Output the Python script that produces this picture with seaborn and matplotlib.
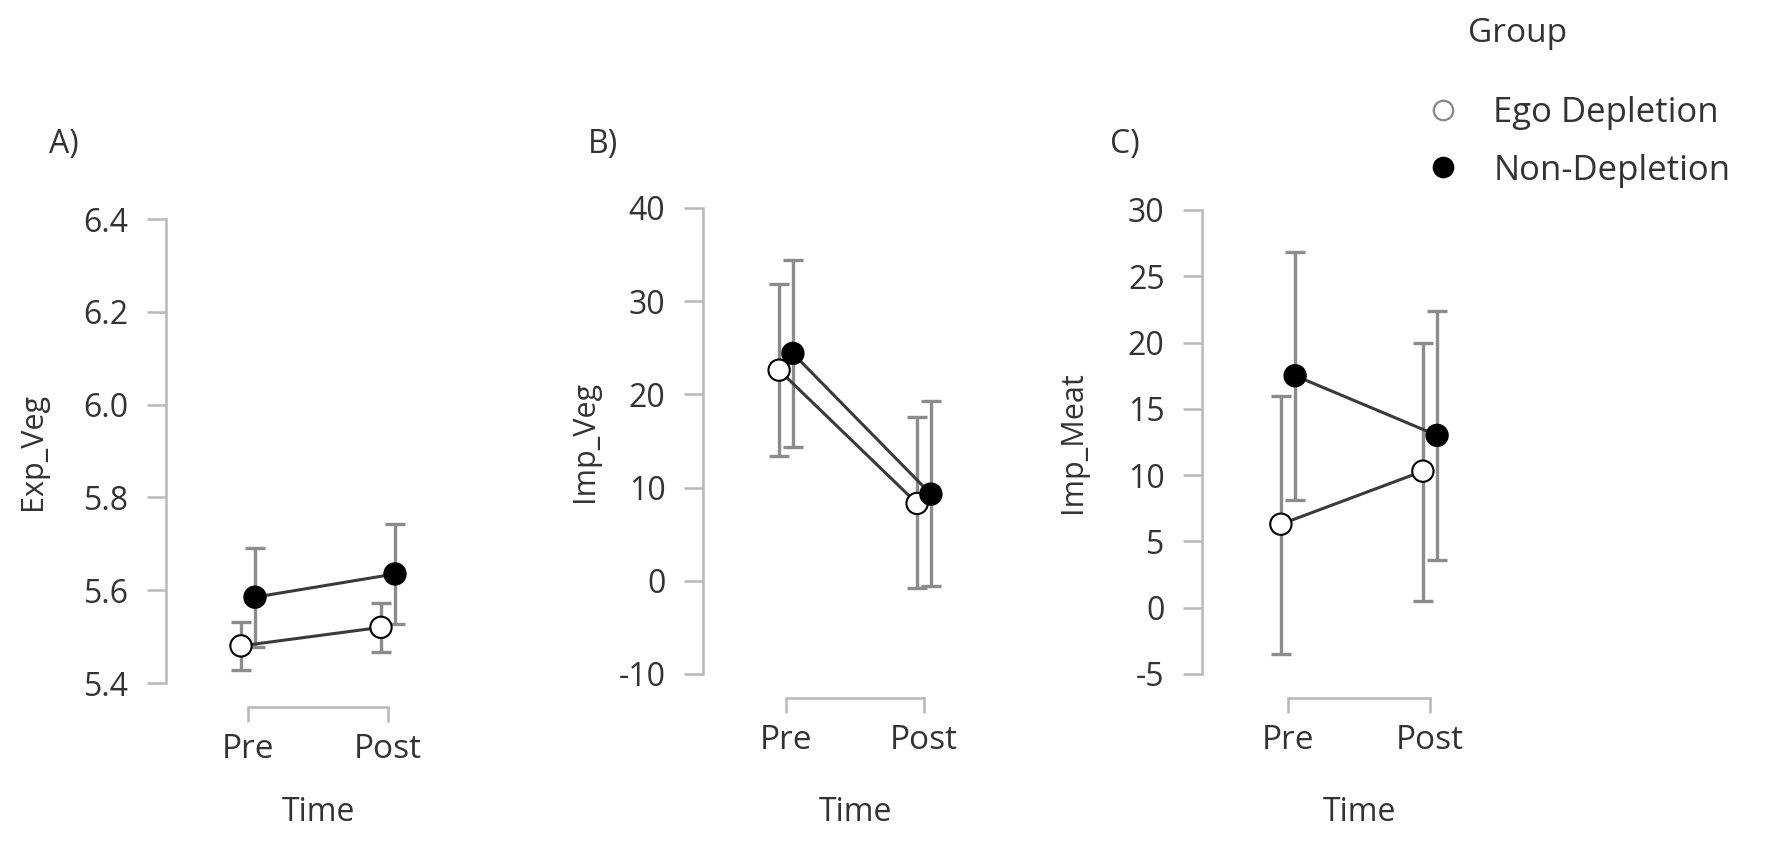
import numpy as np
import pandas as pd
import matplotlib
matplotlib.use("Agg")
import matplotlib.pyplot as plt
import matplotlib.transforms as mtransforms
from matplotlib.lines import Line2D
import seaborn as sns

# ---------------- data ----------------
time_labels = ["Pre", "Post"]
groups = ["Ego Depletion", "Non-Depletion"]

# Panel A: Exp_Veg
exp_veg_ego = [5.48, 5.52]
exp_veg_ego_lo = [5.428, 5.466]
exp_veg_ego_hi = [5.532, 5.572]
exp_veg_non = [5.585, 5.635]
exp_veg_non_lo = [5.478, 5.528]
exp_veg_non_hi = [5.692, 5.743]

# Panel B: Imp_Veg
imp_veg_ego = [22.6, 8.3]
imp_veg_ego_lo = [13.4, -0.8]
imp_veg_ego_hi = [31.8, 17.6]
imp_veg_non = [24.4, 9.3]
imp_veg_non_lo = [14.4, -0.6]
imp_veg_non_hi = [34.4, 19.3]

# Panel C: Imp_Meat
imp_meat_ego = [6.3, 10.3]
imp_meat_ego_lo = [-3.5, 0.5]
imp_meat_ego_hi = [16.0, 20.0]
imp_meat_non = [17.5, 13.0]
imp_meat_non_lo = [8.1, 3.6]
imp_meat_non_hi = [26.8, 22.4]

y_ticks_a = [5.4, 5.6, 5.8, 6.0, 6.2, 6.4]
y_ticks_b = [-10, 0, 10, 20, 30, 40]
y_ticks_c = [-5, 0, 5, 10, 15, 20, 25, 30]

panels = [
    dict(tag="A)", ylabel="Exp_Veg", ticks=y_ticks_a, fmt="{:.1f}",
         ego=(exp_veg_ego, exp_veg_ego_lo, exp_veg_ego_hi),
         non=(exp_veg_non, exp_veg_non_lo, exp_veg_non_hi)),
    dict(tag="B)", ylabel="Imp_Veg", ticks=y_ticks_b, fmt="{:.0f}",
         ego=(imp_veg_ego, imp_veg_ego_lo, imp_veg_ego_hi),
         non=(imp_veg_non, imp_veg_non_lo, imp_veg_non_hi)),
    dict(tag="C)", ylabel="Imp_Meat", ticks=y_ticks_c, fmt="{:.0f}",
         ego=(imp_meat_ego, imp_meat_ego_lo, imp_meat_ego_hi),
         non=(imp_meat_non, imp_meat_non_lo, imp_meat_non_hi)),
]

# ---------------- style ----------------
sns.set_theme(style="white")
plt.rcParams["font.family"] = ["Open Sans", "DejaVu Sans"]
TXT = "#333333"
SPINE = "#b8b8b8"
ERR = "#8c8c8c"
LINE = "#3a3a3a"
plt.rcParams["text.color"] = TXT

W, H = 1783, 848
fig = plt.figure(figsize=(W / 100, H / 100), dpi=100)
fig.patch.set_facecolor("white")

# layout in pixels: (spine_x, top_y, bottom_y, pre_x, px_per_unit, tag_xy, ylabel_right)
layout = [
    (166, 219, 683, 248, 140, (64, 145), 48),
    (703, 208, 674, 786, 138, (603, 145), 600),
    (1202, 210, 674, 1288, 142, (1125, 145), 1088),
]
dodge = {"Ego Depletion": -0.05, "Non-Depletion": 0.05}
face = {"Ego Depletion": "white", "Non-Depletion": "black"}

for p, (sx, ty, by, prex, ppu, tagxy, ylr) in zip(panels, layout):
    xleft = -(prex - sx) / ppu
    xright = 1.45
    width_px = (xright - xleft) * ppu
    ax = fig.add_axes([sx / W, (H - by) / H, width_px / W, (by - ty) / H])
    ax.set_facecolor("none")

    rows = []
    for g in groups:
        m, lo, hi = p["ego"] if g == groups[0] else p["non"]
        for i, t in enumerate(time_labels):
            rows.append(dict(Group=g, Time=t, xpos=i + dodge[g],
                             mean=m[i], lo=lo[i], hi=hi[i]))
    df = pd.DataFrame(rows)

    for g in groups:
        d = df[df.Group == g]
        ax.errorbar(d.xpos, d["mean"],
                    yerr=[d["mean"] - d.lo, d.hi - d["mean"]],
                    fmt="none", ecolor=ERR, elinewidth=2.4, capsize=7,
                    capthick=2.4, zorder=1)

    sns.lineplot(data=df, x="xpos", y="mean", hue="Group", hue_order=groups,
                 palette={g: LINE for g in groups}, linewidth=2.2,
                 legend=False, ax=ax, zorder=2, sort=True)
    sns.scatterplot(data=df, x="xpos", y="mean", hue="Group", hue_order=groups,
                    palette=face, edgecolor="black", linewidth=1.5, s=235,
                    legend=False, ax=ax, zorder=3)

    ticks = p["ticks"]
    ax.set_ylim(ticks[0], ticks[-1])
    ax.set_xlim(xleft, xright)
    ax.set_yticks(ticks)
    ax.set_yticklabels([p["fmt"].format(t) for t in ticks])
    ax.set_xticks(range(len(time_labels)))
    ax.set_xticklabels(time_labels)

    for s in ["top", "right"]:
        ax.spines[s].set_visible(False)
    ax.spines["left"].set_bounds(ticks[0], ticks[-1])
    ax.spines["bottom"].set_bounds(0, len(time_labels) - 1)
    ax.spines["bottom"].set_position(("outward", 17))
    for s in ["left", "bottom"]:
        ax.spines[s].set_color(SPINE)
        ax.spines[s].set_linewidth(1.8)

    ax.tick_params(axis="y", which="major", direction="out", length=14,
                   width=1.8, color=SPINE, pad=13, labelsize=23,
                   labelcolor=TXT, left=True)
    ax.tick_params(axis="x", which="major", direction="out", length=11,
                   width=1.8, color=SPINE, pad=8, labelsize=24,
                   labelcolor=TXT, bottom=True)

    ax.set_ylabel(p["ylabel"], fontsize=22, color=TXT)
    ax.yaxis.set_label_coords(ylr / W, 0.5,
                              transform=mtransforms.blended_transform_factory(
                                  fig.transFigure, ax.transAxes))
    ax.set_xlabel("Time", fontsize=23, color=TXT)
    ax.xaxis.label.set_va("baseline")
    ax.xaxis.set_label_coords(0.5, (H - 821) / H,
                              transform=mtransforms.blended_transform_factory(
                                  ax.transData, fig.transFigure))

    fig.text(tagxy[0] / W, 1 - tagxy[1] / H, p["tag"], ha="center",
             va="center", fontsize=23, color=TXT)

# legend
fig.text(1468 / W, 1 - 42 / H, "Group", ha="left", va="baseline",
         fontsize=24, color=TXT)
handles = [Line2D([], [], linestyle="none", marker="o", markersize=14,
                  markerfacecolor=face[g],
                  markeredgecolor="#888888" if g == groups[0] else "black",
                  markeredgewidth=1.6) for g in groups]
fig.legend(handles, groups, loc="upper left",
           bbox_to_anchor=(1429 / W, 1 - 96 / H), frameon=False, fontsize=25,
           handlelength=0.8, handletextpad=1.05, labelspacing=0.68,
           borderaxespad=0, borderpad=0, labelcolor=TXT)

fig.savefig("out.png", dpi=100, facecolor="white")
